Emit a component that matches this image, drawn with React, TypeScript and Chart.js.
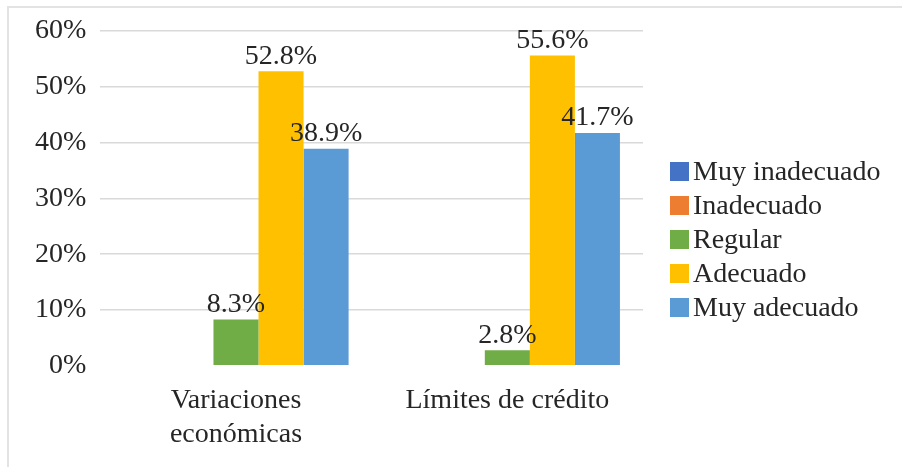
import React, { useEffect, useRef } from "react";
import { Chart, registerables } from "chart.js";

Chart.register(...registerables);

const categories: (string | string[])[] = [["Variaciones", "económicas"], "Límites de crédito"];
const seriesNames = ["Muy inadecuado", "Inadecuado", "Regular", "Adecuado", "Muy adecuado"];
const seriesColors = ["#4472C4", "#ED7D31", "#70AD47", "#FFC000", "#5B9BD5"];
const muyInadecuado = [0, 0];
const inadecuado = [0, 0];
const regular = [8.3, 2.8];
const adecuado = [52.8, 55.6];
const muyAdecuado = [38.9, 41.7];
const yTicks = [0, 10, 20, 30, 40, 50, 60];

const FONT = "'Liberation Serif', 'Times New Roman', serif";
const FS = 28;
const TEXT = "#262626";

const labelPlugin = {
  id: "barLabels",
  afterDatasetsDraw(chart: any) {
    const { ctx } = chart;
    ctx.save();
    ctx.font = `${FS}px ${FONT}`;
    ctx.fillStyle = TEXT;
    ctx.textAlign = "center";
    ctx.textBaseline = "bottom";
    chart.data.datasets.forEach((ds: any, di: number) => {
      const meta = chart.getDatasetMeta(di);
      meta.data.forEach((el: any, i: number) => {
        const v = ds.data[i];
        if (!v) return;
        ctx.fillText(v.toFixed(1) + "%", el.x, el.y - 1);
      });
    });
    ctx.restore();
  },
};

const legendPlugin = {
  id: "sideLegend",
  afterDraw(chart: any) {
    const { ctx, chartArea } = chart;
    const box = 19;
    const step = 34;
    const x = chartArea.right + 27;
    const midY = chart.height / 2 + 6;
    const n = chart.data.datasets.length;
    ctx.save();
    ctx.font = `${FS}px ${FONT}`;
    ctx.textAlign = "left";
    ctx.textBaseline = "middle";
    chart.data.datasets.forEach((ds: any, i: number) => {
      const cy = midY + (i - (n - 1) / 2) * step;
      ctx.fillStyle = ds.backgroundColor;
      ctx.fillRect(x, cy - box / 2, box, box);
      ctx.fillStyle = TEXT;
      ctx.fillText(ds.label, x + box + 4, cy + 1);
    });
    ctx.restore();
  },
};

export default function App() {
  const ref = useRef<HTMLCanvasElement | null>(null);
  useEffect(() => {
    if (!ref.current) return;
    const all = [muyInadecuado, inadecuado, regular, adecuado, muyAdecuado];
    const chart = new Chart(ref.current, {
      type: "bar",
      data: {
        labels: categories,
        datasets: seriesNames.map((n, i) => ({
          label: n,
          data: all[i],
          backgroundColor: seriesColors[i],
          borderWidth: 0,
          categoryPercentage: 0.83,
          barPercentage: 1,
        })),
      },
      options: {
        responsive: false,
        animation: false,
        layout: { padding: { top: 31, left: 21, right: 259, bottom: 6 } },
        plugins: {
          tooltip: { enabled: false },
          legend: { display: false },
        },
        scales: {
          x: {
            grid: { display: false },
            border: { display: false },
            ticks: {
              font: { family: FONT, size: FS },
              color: TEXT,
              maxRotation: 0,
              autoSkip: false,
              padding: 10,
            },
          },
          y: {
            min: 0,
            max: 60,
            afterBuildTicks: (axis: any) => {
              axis.ticks = yTicks.map((v) => ({ value: v }));
            },
            grid: {
              color: (c: any) => (c.tick && c.tick.value === 0 ? "rgba(0,0,0,0)" : "#d9d9d9"),
              lineWidth: 1.5,
              drawTicks: false,
            },
            border: { display: false },
            ticks: {
              font: { family: FONT, size: FS },
              color: TEXT,
              padding: 14,
              callback: (v: any) => v + "%",
            },
          },
        },
      },
      plugins: [labelPlugin, legendPlugin],
    });
    return () => chart.destroy();
  }, []);
  return (
    <div style={{ position: "fixed", left: 0, top: 0, width: 902, height: 467, background: "#fff", overflow: "hidden" }}>
      <div
        style={{
          position: "absolute",
          left: 7,
          top: 6,
          width: 902,
          height: 467,
          borderLeft: "2px solid #e3e3e3",
          borderTop: "2px solid #e3e3e3",
        }}
      />
      <canvas ref={ref} width={902} height={467} style={{ position: "absolute", left: 0, top: 0 }} />
    </div>
  );
}
